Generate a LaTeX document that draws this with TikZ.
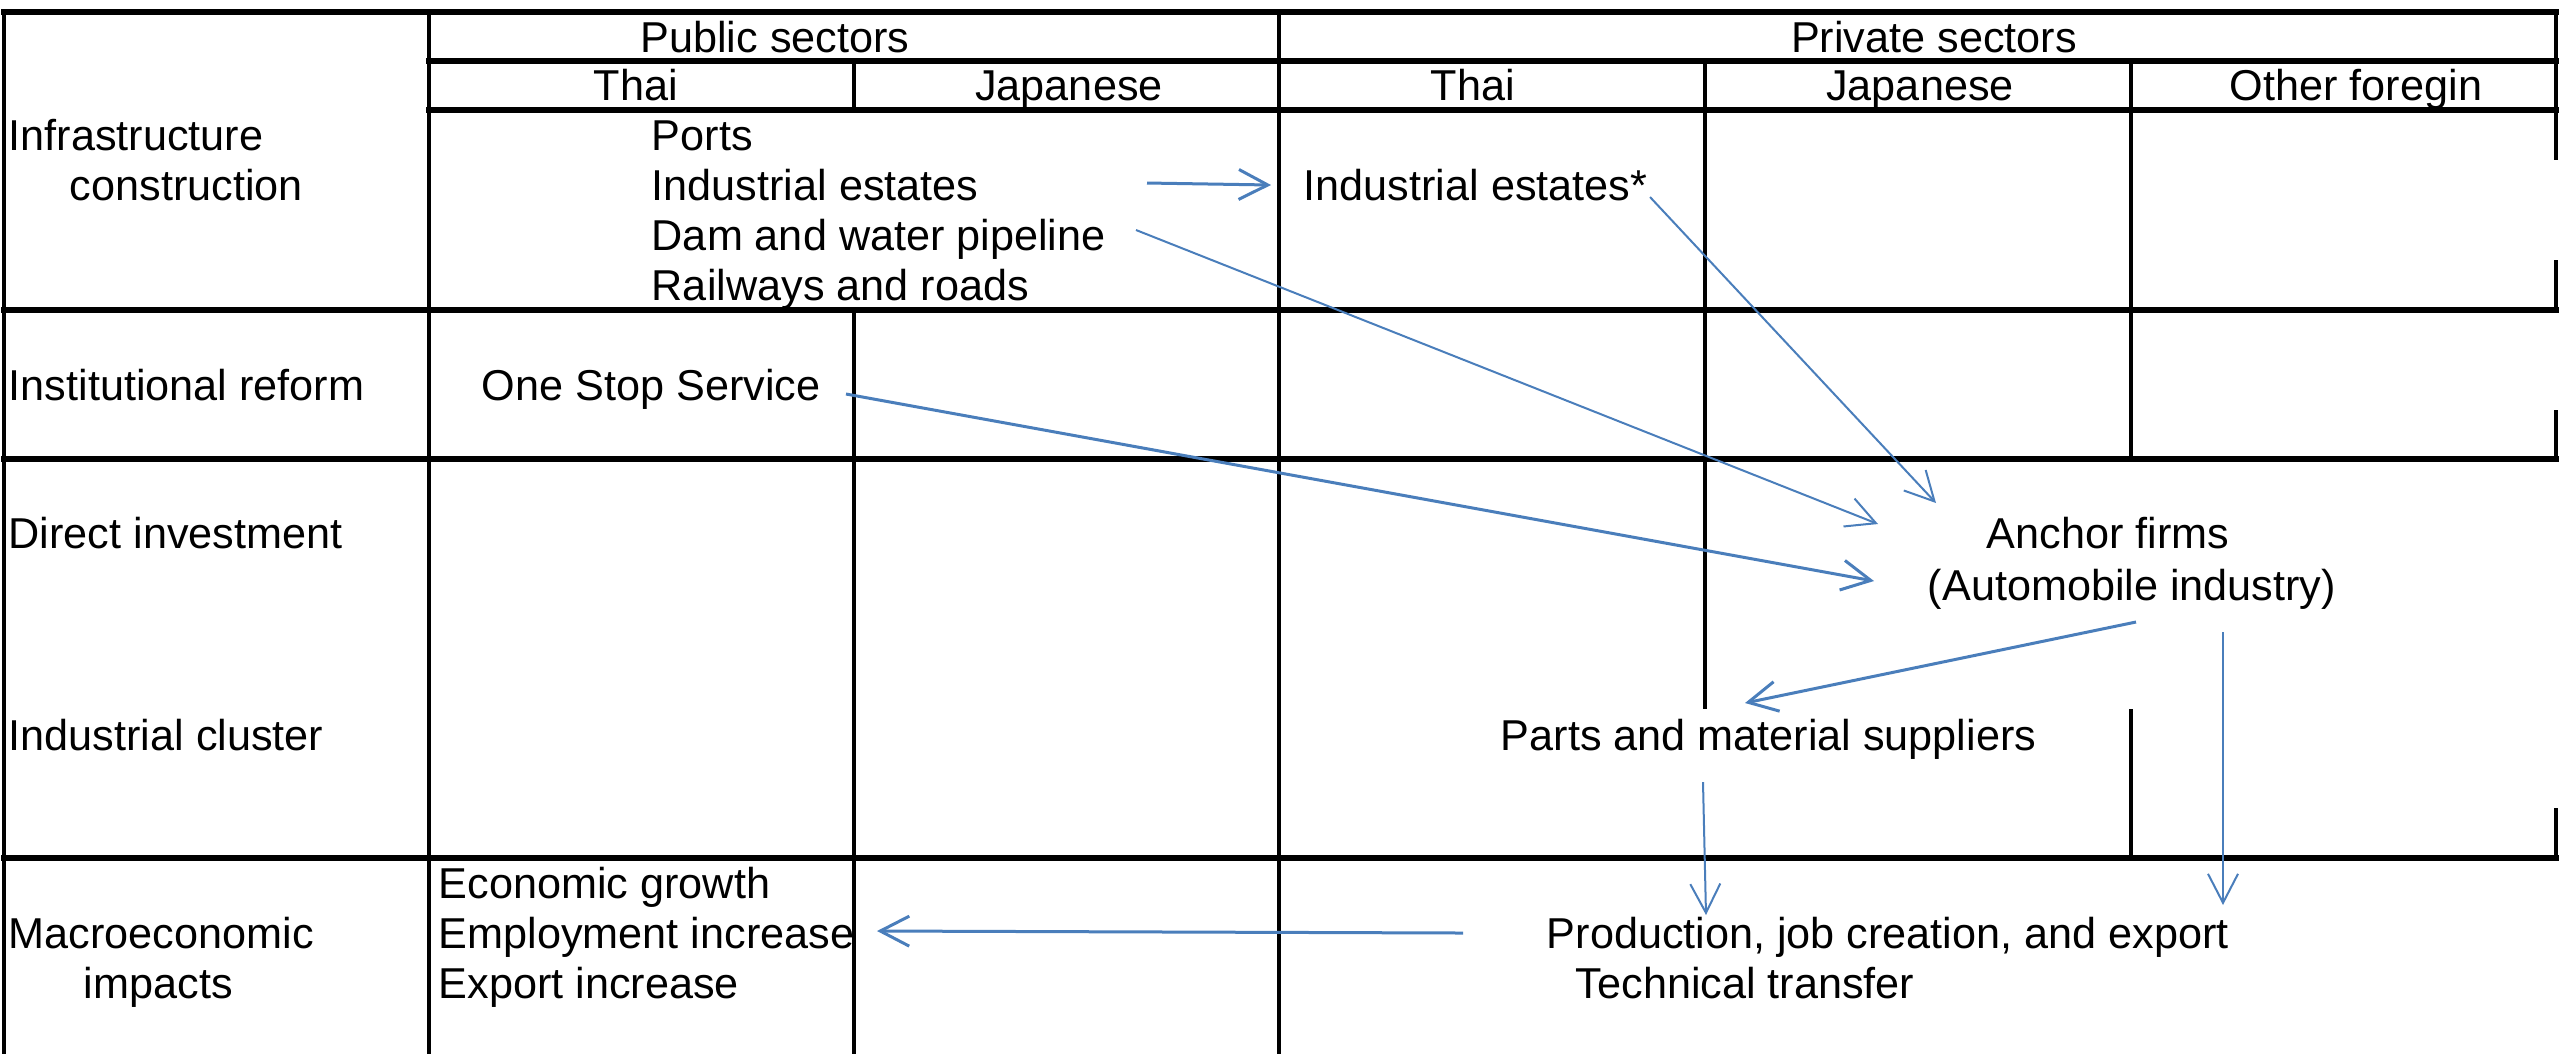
\documentclass[tikz,border=0pt]{standalone}
\usepackage{fontspec}
\setmainfont{Liberation Sans}
\usetikzlibrary{arrows.meta}
\definecolor{arrblue}{HTML}{4A7EBB}

\begin{document}
\begin{tikzpicture}[x=0.25pt,y=-0.25pt,
  txt/.style={inner sep=0pt, anchor=base west, font=\fontsize{10.8}{13}\selectfont},
  hd/.style={txt, anchor=base},
  hrule/.style={line width=1.45pt, line cap=rect},
  vrule/.style={line width=1.15pt},
  flow/.style={draw=arrblue, line width=0.5pt, -{Straight Barb[length=7.25pt,width=7.5pt]}},
  bigflow/.style={flow, line width=0.75pt}]
\useasboundingbox (0,0) rectangle (2560,1054);
% table rules
\foreach \y/\xa in {12/4, 61/429, 110/429, 310/4, 459/4, 858/4}
  \draw[hrule] (\xa,\y) -- (2556,\y);
\foreach \x/\ya/\yb in {4/12/1054, 429/12/1054, 1279/12/1054, 854/61/110, 854/310/1054,
    1705/61/709, 2131/61/459, 2131/709/858}
  \draw[vrule] (\x,\ya) -- (\x,\yb);
\foreach \ya/\yb in {12/160, 260/310, 410/459, 808/858}
  \draw[line width=1.2pt] (2556,\ya) -- (2556,\yb);
% headers
\node[hd] (pub) at (775,52) {Public sectors};
\node[hd] (prv) at (1934,52) {Private sectors};
\node[hd] (pth) at (636,100) {Thai};
\node[hd] (pjp) at (1069,100) {Japanese};
\node[hd] (xth) at (1473,100) {Thai};
\node[hd] (xjp) at (1920,100) {Japanese};
\node[hd] (xot) at (2356,100) {Other foregin};
% row labels
\node[txt] (r1a) at (8,150) {Infrastructure};
\node[txt] (r1b) at (69,200) {construction};
\node[txt] (r2) at (8,400) {Institutional reform};
\node[txt] (r3) at (8,548) {Direct investment};
\node[txt] (r4) at (8,750) {Industrial cluster};
\node[txt] (r5a) at (8,948) {Macroeconomic};
\node[txt] (r5b) at (83,998) {impacts};
% cells
\node[txt] (port) at (651,150) {Ports};
\node[txt] (pie) at (651,200) {Industrial estates};
\node[txt] (dam) at (651,250) {Dam and water pipeline};
\node[txt] (rail) at (651,300) {Railways and roads};
\node[txt] (xie) at (1303,200) {Industrial estates*};
\node[txt] (oss) at (481,400) {One Stop Service};
\node[txt] (anc) at (1986,548) {Anchor firms};
\node[txt] (auto) at (1927,600) {(Automobile industry)};
\node[txt] (parts) at (1500,750) {Parts and material suppliers};
\node[txt] (prod) at (1546,948) {Production, job creation, and export};
\node[txt] (tech) at (1575,998) {Technical transfer};
\node[txt] (grow) at (438,898) {Economic growth};
\node[txt] (emp) at (438,948) {Employment increase};
\node[txt] (expi) at (438,998) {Export increase};
% arrows
\draw[bigflow] ([shift={(496,-17)}]pie.base west) -- ([shift={(-32,-15)}]xie.base west);
\draw[flow] ([shift={(485,-20)}]dam.base west) -- ([shift={(-108,-24)}]anc.base west);
\draw[flow] ([shift={(347,-3)}]xie.base west) -- ([shift={(-50,-45)}]anc.base west);
\draw[bigflow] ([shift={(365,-6)}]oss.base west) -- ([shift={(-53,-19)}]auto.base west);
\draw[bigflow] ([shift={(209,22)}]auto.base west) -- ([shift={(245,-47)}]parts.base west);
\draw[flow] ([shift={(296,32)}]auto.base west) -- ([shift={(677,-43)}]prod.base west);
\draw[flow] ([shift={(203,32)}]parts.base west) -- ([shift={(160,-33)}]prod.base west);
\draw[bigflow] ([shift={(-83,-15)}]prod.base west) -- ([shift={(439,-17)}]emp.base west);
\end{tikzpicture}
\end{document}
